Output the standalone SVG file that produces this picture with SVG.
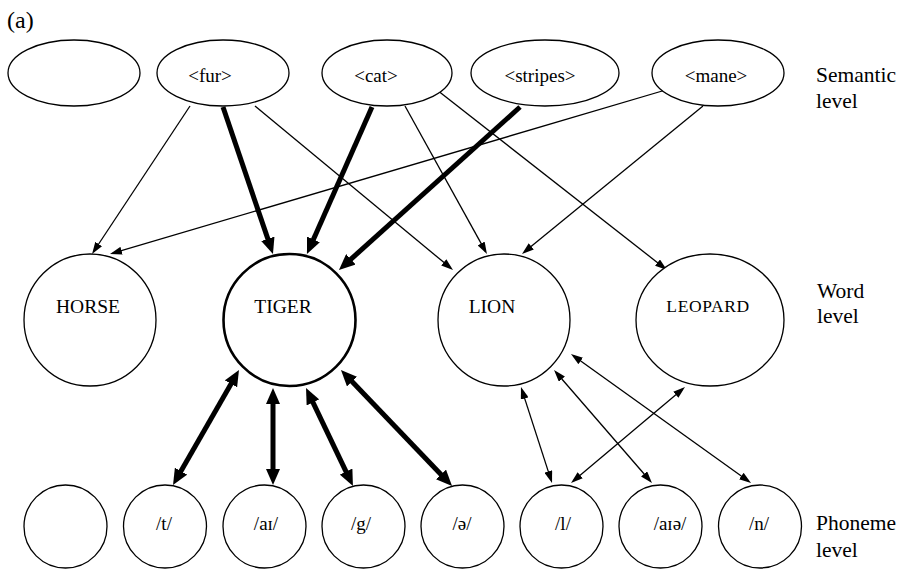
<svg xmlns="http://www.w3.org/2000/svg" width="904" height="571" viewBox="0 0 904 571">
<defs>
<style>
.node{fill:#fff;stroke:#000;stroke-width:1.3}
.bold{stroke-width:2.6}
.t{font-family:"Liberation Serif","Times New Roman",serif;fill:#000}
.sem{font-size:19px;text-anchor:middle}
.word{font-size:19.5px;text-anchor:middle}
.ph{font-size:19px;text-anchor:middle}
.lab{font-size:21.5px}
.thin{stroke:#000;stroke-width:1.3;fill:none}
.thick{stroke:#000;stroke-width:5;fill:none}
</style>
<marker id="ah" markerUnits="userSpaceOnUse" viewBox="0 0 12 8" markerWidth="12" markerHeight="8" refX="9" refY="4" orient="auto-start-reverse"><path d="M0,0 L12,4 L0,8 z" fill="#000"/></marker>
<marker id="AH" markerUnits="userSpaceOnUse" viewBox="0 0 16 14" markerWidth="16" markerHeight="14" refX="8" refY="7" orient="auto-start-reverse"><path d="M0,0 L16,7 L0,14 z" fill="#000"/></marker>
</defs>
<rect width="904" height="571" fill="#fff"/>
<text class="t" x="7" y="28" style="font-size:24px">(a)</text>

<g id="connectors">
<line class="thin" x1="190" y1="106" x2="93.7" y2="251.5" marker-end="url(#ah)"/>
<line class="thin" x1="255" y1="106" x2="450.7" y2="268.1" marker-end="url(#ah)"/>
<line class="thin" x1="669" y1="89" x2="112.9" y2="253.2" marker-end="url(#ah)"/>
<line class="thin" x1="405" y1="106" x2="485.5" y2="251.4" marker-end="url(#ah)"/>
<line class="thin" x1="437" y1="90" x2="664.6" y2="268.2" marker-end="url(#ah)"/>
<line class="thin" x1="703" y1="106" x2="524.3" y2="252.1" marker-end="url(#ah)"/>
<line class="thick" x1="223" y1="107" x2="270.4" y2="246.4" marker-end="url(#AH)"/>
<line class="thick" x1="372" y1="107" x2="310.2" y2="246.7" marker-end="url(#AH)"/>
<line class="thick" x1="520" y1="107" x2="344.9" y2="264.6" marker-end="url(#AH)"/>
<line class="thick" x1="235.0" y1="376.9" x2="177.0" y2="478.1" marker-start="url(#AH)" marker-end="url(#AH)"/>
<line class="thick" x1="273" y1="396" x2="273" y2="477" marker-start="url(#AH)" marker-end="url(#AH)"/>
<line class="thick" x1="309.5" y1="395.2" x2="349.5" y2="478.8" marker-start="url(#AH)" marker-end="url(#AH)"/>
<line class="thick" x1="346.5" y1="375.8" x2="446.5" y2="480.2" marker-start="url(#AH)" marker-end="url(#AH)"/>
<line class="thin" x1="521.9" y1="389.9" x2="551.1" y2="480.1" marker-start="url(#ah)" marker-end="url(#ah)"/>
<line class="thin" x1="556.0" y1="372.3" x2="650.0" y2="480.7" marker-start="url(#ah)" marker-end="url(#ah)"/>
<line class="thin" x1="573.4" y1="355.7" x2="748.6" y2="481.3" marker-start="url(#ah)" marker-end="url(#ah)"/>
<line class="thin" x1="682.7" y1="388.9" x2="573.3" y2="481.1" marker-start="url(#ah)" marker-end="url(#ah)"/>
</g>

<g id="sem-empty"><ellipse class="node" cx="74" cy="73" rx="66" ry="33"/></g>
<g id="sem-fur"><ellipse class="node" cx="223" cy="73" rx="66" ry="33"/><text class="t sem" x="210" y="82">&lt;fur&gt;</text></g>
<g id="sem-cat"><ellipse class="node" cx="387" cy="73" rx="65" ry="33"/><text class="t sem" x="376" y="82">&lt;cat&gt;</text></g>
<g id="sem-stripes"><ellipse class="node" cx="545" cy="73" rx="74" ry="33"/><text class="t sem" x="540" y="82">&lt;stripes&gt;</text></g>
<g id="sem-mane"><ellipse class="node" cx="718" cy="73" rx="66" ry="33"/><text class="t sem" x="716" y="82">&lt;mane&gt;</text></g>
<text class="t lab" x="816" y="82">Semantic</text>
<text class="t lab" x="816" y="108">level</text>

<g id="word-horse"><circle class="node" cx="90" cy="320" r="66"/><text class="t word" x="88" y="313">HORSE</text></g>
<g id="word-tiger"><circle class="node bold" cx="289.5" cy="320" r="66"/><text class="t word" x="283" y="313">TIGER</text></g>
<g id="word-lion"><circle class="node" cx="504" cy="320" r="66"/><text class="t word" x="492" y="313">LION</text></g>
<g id="word-leopard"><ellipse class="node" cx="710" cy="320" rx="74" ry="66"/><text class="t word" x="708" y="312" style="font-size:17.5px;letter-spacing:0.6px">LEOPARD</text></g>
<text class="t lab" x="817" y="298">Word</text>
<text class="t lab" x="817" y="323">level</text>

<g id="ph-empty"><circle class="node" cx="65.5" cy="526.5" r="41.5"/></g>
<g id="ph-t"><circle class="node" cx="165" cy="526.5" r="41.5"/><text class="t ph" x="164" y="530">/t/</text></g>
<g id="ph-ai"><circle class="node" cx="264.5" cy="526.5" r="41.5"/><text class="t ph" x="266" y="530">/aɪ/</text></g>
<g id="ph-g"><circle class="node" cx="363.5" cy="526.5" r="41.5"/><text class="t ph" x="361" y="530">/g/</text></g>
<g id="ph-schwa"><circle class="node" cx="462.5" cy="526.5" r="41.5"/><text class="t ph" x="462" y="530">/ə/</text></g>
<g id="ph-l"><circle class="node" cx="561.5" cy="526.5" r="41.5"/><text class="t ph" x="563" y="530">/l/</text></g>
<g id="ph-aie"><circle class="node" cx="660.5" cy="526.5" r="41.5"/><text class="t ph" x="670" y="530">/aɪə/</text></g>
<g id="ph-n"><circle class="node" cx="760" cy="526.5" r="41.5"/><text class="t ph" x="759" y="530">/n/</text></g>
<text class="t lab" x="816" y="530">Phoneme</text>
<text class="t lab" x="816" y="557">level</text>
</svg>
